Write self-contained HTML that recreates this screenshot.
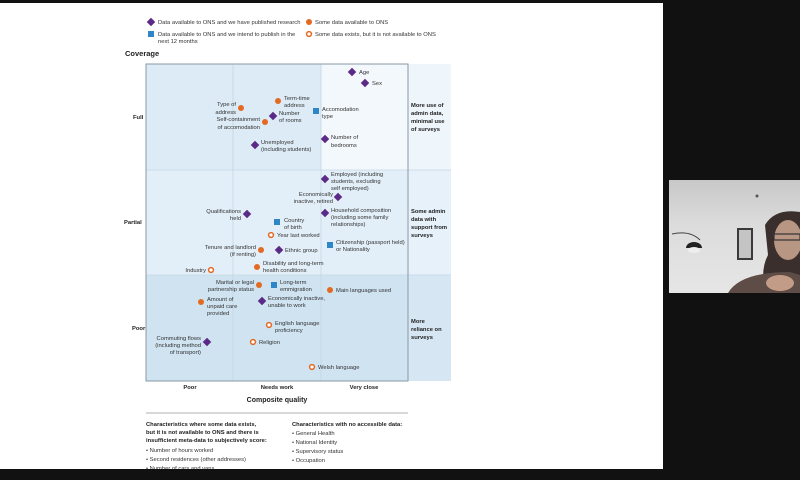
<!DOCTYPE html>
<html><head><meta charset="utf-8"><style>
html,body{margin:0;padding:0;width:800px;height:480px;overflow:hidden;background:#111}
svg{display:block}
text{font-family:"Liberation Sans",sans-serif;fill:#333;font-size:5.8px}
.b{font-weight:bold;fill:#222}
</style></head><body>
<svg width="800" height="480" viewBox="0 0 800 480">
<defs>
<g id="d"><rect x="-3" y="-3" width="6" height="6" fill="#5b2a86" transform="rotate(45)"/></g>
<g id="o"><circle r="3" fill="#e26a22"/></g>
<g id="r"><circle r="2.4" fill="#fff" stroke="#e26a22" stroke-width="1.5"/></g>
<g id="s"><rect x="-3" y="-3" width="6" height="6" fill="#2f86c6"/></g>
<linearGradient id="cam" x1="0" y1="0" x2="0" y2="1"><stop offset="0" stop-color="#c8c8c8"/><stop offset="0.4" stop-color="#dcdcdc"/><stop offset="1" stop-color="#e6e6e6"/></linearGradient>
</defs>
<rect x="0" y="0" width="800" height="480" fill="#111"/>
<rect x="0" y="3" width="663" height="466" fill="#fff"/>
<use href="#d" x="151" y="22"/><text x="158" y="24">Data available to ONS and we have published research</text>
<use href="#o" x="309" y="22"/><text x="315" y="24">Some data available to ONS</text>
<use href="#s" x="151" y="34"/><text x="158" y="36">Data available to ONS and we intend to publish in the</text><text x="158" y="43">next 12 months</text>
<use href="#r" x="309" y="34"/><text x="315" y="36">Some data exists, but it is not available to ONS</text>
<text class="b" x="125" y="56" style="font-size:7.5px">Coverage</text>
<rect x="146" y="64" width="175" height="106" fill="#dcebf6"/>
<rect x="321" y="64" width="87" height="106" fill="#f3f8fc"/>
<rect x="408" y="64" width="43" height="106" fill="#eef5fb"/>
<rect x="146" y="170" width="262" height="105" fill="#e3eff8"/>
<rect x="408" y="170" width="43" height="105" fill="#e6f1f9"/>
<rect x="146" y="275" width="262" height="106" fill="#cfe3f1"/>
<rect x="408" y="275" width="43" height="106" fill="#d6e7f3"/>
<g stroke="#c4d6e4" stroke-width="0.8">
<line x1="233" y1="64" x2="233" y2="381"/><line x1="321" y1="64" x2="321" y2="381"/>
<line x1="146" y1="170" x2="451" y2="170"/><line x1="146" y1="275" x2="451" y2="275"/>
</g>
<rect x="146" y="64" width="262" height="317" fill="none" stroke="#8a99a6" stroke-width="1"/>
<text class="b" x="133" y="119">Full</text>
<text class="b" x="124" y="224">Partial</text>
<text class="b" x="132" y="330">Poor</text>
<text class="b" x="411" y="107">More use of</text><text class="b" x="411" y="115">admin data,</text><text class="b" x="411" y="123">minimal use</text><text class="b" x="411" y="131">of surveys</text>
<text class="b" x="411" y="213">Some admin</text><text class="b" x="411" y="221">data with</text><text class="b" x="411" y="229">support from</text><text class="b" x="411" y="237">surveys</text>
<text class="b" x="411" y="323">More</text><text class="b" x="411" y="331">reliance on</text><text class="b" x="411" y="339">surveys</text>
<use href="#d" x="352" y="72"/><text x="359" y="74">Age</text>
<use href="#d" x="365" y="83"/><text x="372" y="85">Sex</text>
<use href="#o" x="241" y="108"/><text x="236" y="106" text-anchor="end">Type of</text><text x="236" y="114" text-anchor="end">address</text>
<use href="#o" x="278" y="101"/><text x="284" y="100">Term-time</text><text x="284" y="107">address</text>
<use href="#s" x="316" y="111"/><text x="322" y="111">Accomodation</text><text x="322" y="118">type</text>
<use href="#o" x="265" y="122"/><text x="260" y="121" text-anchor="end">Self-containment</text><text x="260" y="129" text-anchor="end">of accomodation</text>
<use href="#d" x="273" y="116"/><text x="279" y="115">Number</text><text x="279" y="122">of rooms</text>
<use href="#d" x="255" y="145"/><text x="261" y="144">Unemployed</text><text x="261" y="151">(including students)</text>
<use href="#d" x="325" y="139"/><text x="331" y="139">Number of</text><text x="331" y="147">bedrooms</text>
<use href="#d" x="325" y="179"/><text x="331" y="176">Employed (including</text><text x="331" y="183">students, excluding</text><text x="331" y="190">self employed)</text>
<use href="#d" x="338" y="197"/><text x="333" y="196" text-anchor="end">Economically</text><text x="333" y="203" text-anchor="end">inactive, retired</text>
<use href="#d" x="247" y="214"/><text x="241" y="213" text-anchor="end">Qualifications</text><text x="241" y="220" text-anchor="end">held</text>
<use href="#d" x="325" y="213"/><text x="331" y="212">Household composition</text><text x="331" y="219">(including some family</text><text x="331" y="226">relationships)</text>
<use href="#s" x="277" y="222"/><text x="284" y="222">Country</text><text x="284" y="229">of birth</text>
<use href="#r" x="271" y="235"/><text x="277" y="237">Year last worked</text>
<use href="#s" x="330" y="245"/><text x="336" y="244">Citizenship (passport held)</text><text x="336" y="251">or Nationality</text>
<use href="#o" x="261" y="250"/><text x="256" y="249" text-anchor="end">Tenure and landlord</text><text x="256" y="256" text-anchor="end">(if renting)</text>
<use href="#d" x="279" y="250"/><text x="285" y="252">Ethnic group</text>
<use href="#o" x="257" y="267"/><text x="263" y="265">Disability and long-term</text><text x="263" y="272">health conditions</text>
<use href="#r" x="211" y="270"/><text x="206" y="272" text-anchor="end">Industry</text>
<use href="#o" x="259" y="285"/><text x="254" y="284" text-anchor="end">Marital or legal</text><text x="254" y="291" text-anchor="end">partnership status</text>
<use href="#s" x="274" y="285"/><text x="280" y="284">Long-term</text><text x="280" y="291">emmigration</text>
<use href="#o" x="330" y="290"/><text x="336" y="292">Main languages used</text>
<use href="#o" x="201" y="302"/><text x="207" y="301">Amount of</text><text x="207" y="308">unpaid care</text><text x="207" y="315">provided</text>
<use href="#d" x="262" y="301"/><text x="268" y="300">Economically inactive,</text><text x="268" y="307">unable to work</text>
<use href="#r" x="269" y="325"/><text x="275" y="325">English language</text><text x="275" y="332">proficiency</text>
<use href="#d" x="207" y="342"/><text x="201" y="340" text-anchor="end">Commuting flows</text><text x="201" y="347" text-anchor="end">(including method</text><text x="201" y="354" text-anchor="end">of transport)</text>
<use href="#r" x="253" y="342"/><text x="259" y="344">Religion</text>
<use href="#r" x="312" y="367"/><text x="318" y="369">Welsh language</text>
<text class="b" x="190" y="389" text-anchor="middle">Poor</text>
<text class="b" x="277" y="389" text-anchor="middle">Needs work</text>
<text class="b" x="364" y="389" text-anchor="middle">Very close</text>
<text class="b" x="277" y="402" text-anchor="middle" style="font-size:7px">Composite quality</text>
<line x1="146" y1="413" x2="408" y2="413" stroke="#999" stroke-width="0.8"/>
<text class="b" x="146" y="426">Characteristics where some data exists,</text>
<text class="b" x="146" y="434">but it is not available to ONS and there is</text>
<text class="b" x="146" y="442">insufficient meta-data to subjectively score:</text>
<text x="146" y="452">• Number of hours worked</text>
<text x="146" y="461">• Second residences (other addresses)</text>
<text x="146" y="470">• Number of cars and vans</text>
<text class="b" x="292" y="426">Characteristics with no accessible data:</text>
<text x="292" y="435">• General Health</text>
<text x="292" y="444">• National Identity</text>
<text x="292" y="453">• Supervisory status</text>
<text x="292" y="462">• Occupation</text>
<rect x="0" y="469" width="800" height="11" fill="#111"/>
<rect x="669" y="180" width="131" height="113" fill="url(#cam)"/>
<circle cx="757" cy="196" r="1.5" fill="#555"/>
<rect x="737" y="228" width="16" height="32" fill="#3a3a3a"/><rect x="739" y="230" width="12" height="28" fill="#c4c4c4"/>
<path d="M672 234 Q690 230 700 240" stroke="#444" fill="none" stroke-width="1"/>
<path d="M686 248 a8 6 0 0 1 16 0z" fill="#222"/><ellipse cx="694" cy="250" rx="6" ry="3" fill="#eee"/>
<path d="M765 225 Q775 208 800 212 L800 293 L765 293 Q760 270 768 255z" fill="#3a2f2c"/>
<ellipse cx="788" cy="240" rx="14" ry="20" fill="#b89684"/>
<rect x="774" y="234" width="26" height="6" fill="none" stroke="#333" stroke-width="1.2"/>
<path d="M728 293 Q740 272 790 272 L800 275 L800 293z" fill="#5e4c47"/>
<ellipse cx="780" cy="283" rx="14" ry="8" fill="#c29c86"/>
</svg>
</body></html>
